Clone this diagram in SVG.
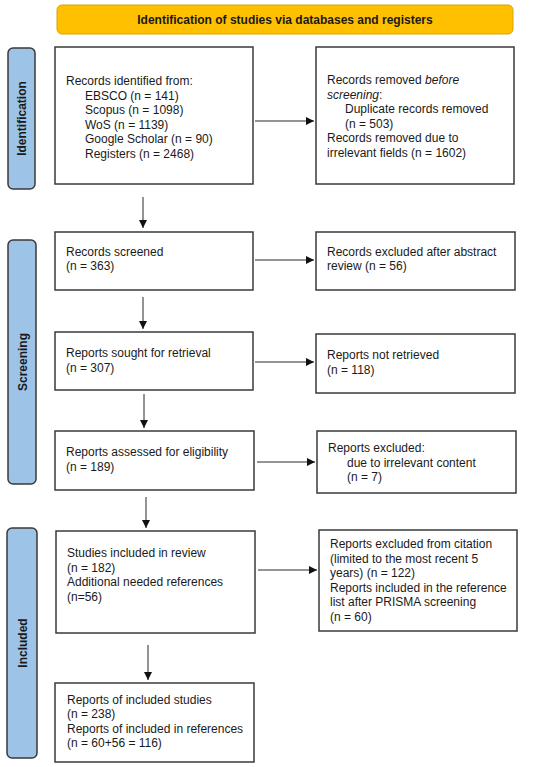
<svg xmlns="http://www.w3.org/2000/svg" width="550" height="767" viewBox="0 0 550 767">
<style>
text{font-family:"Liberation Sans",Arial,sans-serif;font-size:12px;fill:#1a1a1a}
.box{fill:#fff;stroke:#3a3a3a;stroke-width:1.5}
.side{fill:#9dc3e6;stroke:#3a3a3a;stroke-width:1.5}
.lbl{font-weight:bold;text-anchor:middle}
.con{stroke:#2a2a2a;stroke-width:1;fill:none;marker-end:url(#ah)}
</style>
<defs>
<marker id="ah" viewBox="0 0 10 10" refX="10" refY="5" markerWidth="8" markerHeight="8" markerUnits="userSpaceOnUse" orient="auto">
<path d="M0,0 L10,5 L0,10 z" fill="#111"/>
</marker>
</defs>
<rect width="550" height="767" fill="#fff"/>
<g id="header">
<rect x="57" y="5" width="456" height="29" rx="5" fill="#ffc000" stroke="#d9a300" stroke-width="1"/>
<text class="lbl" x="285" y="24">Identification of studies via databases and registers</text>
</g>
<g id="side-identification">
<rect class="side" x="8" y="48" width="27" height="141" rx="5"/>
<text class="lbl" transform="translate(26,118.5) rotate(-90)">Identification</text>
</g>
<g id="side-screening">
<rect class="side" x="8" y="240" width="28" height="244" rx="5"/>
<text class="lbl" transform="translate(26.5,362) rotate(-90)">Screening</text>
</g>
<g id="side-included">
<rect class="side" x="7" y="528" width="30" height="230" rx="5"/>
<text class="lbl" transform="translate(26.5,643) rotate(-90)">Included</text>
</g>
<g id="n-identified">
<rect class="box" x="55" y="47" width="198" height="137"/>
<text x="66" y="85">Records identified from:</text>
<text x="85" y="99.5">EBSCO (n = 141)</text>
<text x="85" y="114">Scopus (n = 1098)</text>
<text x="85" y="128.5">WoS (n = 1139)</text>
<text x="85" y="143">Google Scholar (n = 90)</text>
<text x="85" y="157.5">Registers (n = 2468)</text>
</g>
<g id="n-removed">
<rect class="box" x="316" y="47" width="198" height="137"/>
<text x="327" y="84">Records removed <tspan font-style="italic">before</tspan></text>
<text x="327" y="98.5"><tspan font-style="italic">screening</tspan>:</text>
<text x="345" y="113">Duplicate records removed</text>
<text x="345" y="127.5">(n = 503)</text>
<text x="327" y="142">Records removed due to</text>
<text x="327" y="156.5">irrelevant fields (n = 1602)</text>
</g>
<g id="n-screened">
<rect class="box" x="55" y="232" width="198" height="58"/>
<text x="66" y="255.5">Records screened</text>
<text x="66" y="270">(n = 363)</text>
</g>
<g id="n-excluded-abstract">
<rect class="box" x="316" y="232" width="199" height="58"/>
<text x="327" y="255.5">Records excluded after abstract</text>
<text x="327" y="270">review (n = 56)</text>
</g>
<g id="n-sought">
<rect class="box" x="55" y="332" width="198" height="58"/>
<text x="66" y="357">Reports sought for retrieval</text>
<text x="66" y="371.5">(n = 307)</text>
</g>
<g id="n-not-retrieved">
<rect class="box" x="316" y="334" width="199" height="59"/>
<text x="327" y="359">Reports not retrieved</text>
<text x="327" y="373.5">(n = 118)</text>
</g>
<g id="n-assessed">
<rect class="box" x="55" y="431" width="199" height="59"/>
<text x="66" y="456">Reports assessed for eligibility</text>
<text x="66" y="470.5">(n = 189)</text>
</g>
<g id="n-excluded">
<rect class="box" x="317" y="431" width="199" height="62"/>
<text x="328" y="452">Reports excluded:</text>
<text x="347" y="466.5">due to irrelevant content</text>
<text x="347" y="481">(n = 7)</text>
</g>
<g id="n-included">
<rect class="box" x="56" y="531" width="199" height="102"/>
<text x="67" y="557">Studies included in review</text>
<text x="67" y="571.5">(n = 182)</text>
<text x="67" y="586">Additional needed references</text>
<text x="67" y="600.5">(n=56)</text>
</g>
<g id="n-citation">
<rect class="box" x="319" y="530" width="198" height="101"/>
<text x="330" y="548">Reports excluded from citation</text>
<text x="330" y="562.5">(limited to the most recent 5</text>
<text x="330" y="577">years) (n = 122)</text>
<text x="330" y="591.5">Reports included in the reference</text>
<text x="330" y="606">list after PRISMA screening</text>
<text x="330" y="620.5">(n = 60)</text>
</g>
<g id="n-reports-included">
<rect class="box" x="55" y="683" width="199" height="79"/>
<text x="67" y="703.5">Reports of included studies</text>
<text x="67" y="718">(n = 238)</text>
<text x="67" y="732.5">Reports of included in references</text>
<text x="67" y="747">(n = 60+56 = 116)</text>
</g>
<g id="connectors">
<line class="con" x1="255" y1="121" x2="314" y2="121"/>
<line class="con" x1="143" y1="197" x2="143" y2="228"/>
<line class="con" x1="255" y1="260" x2="314" y2="260"/>
<line class="con" x1="143" y1="297" x2="143" y2="329"/>
<line class="con" x1="255" y1="362" x2="314" y2="362"/>
<line class="con" x1="144" y1="394" x2="144" y2="428"/>
<line class="con" x1="257" y1="462" x2="315" y2="462"/>
<line class="con" x1="146" y1="497" x2="146" y2="528"/>
<line class="con" x1="258" y1="570" x2="317" y2="570"/>
<line class="con" x1="148" y1="645" x2="148" y2="680"/>
</g>
</svg>
